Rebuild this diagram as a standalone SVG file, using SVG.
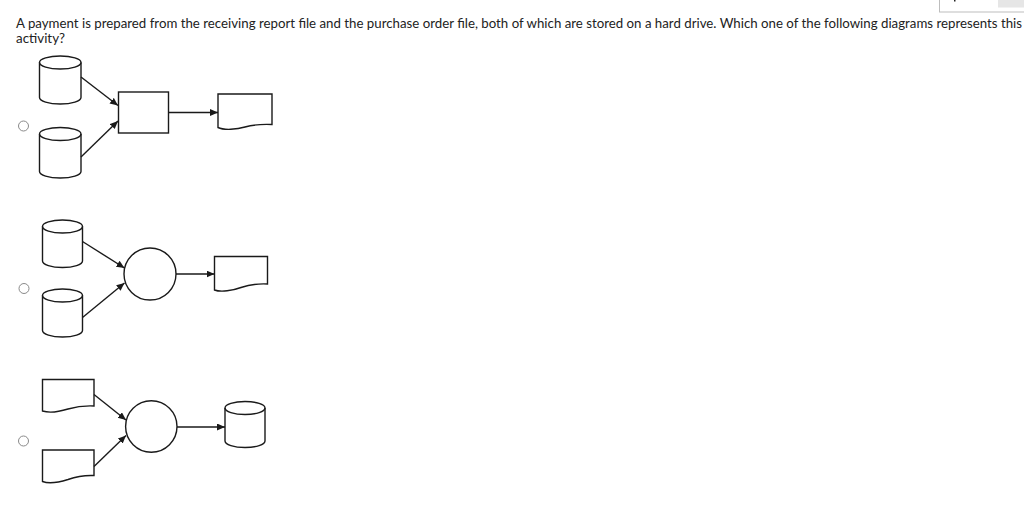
<svg xmlns="http://www.w3.org/2000/svg" width="1024" height="521" viewBox="0 0 1024 521">
<defs>
<style>
.txt{font-family:Lato,"Open Sans","Liberation Sans",sans-serif;font-size:13px;fill:#222}
.sh{fill:#fff;stroke:#1a1a1a;stroke-width:1.4}
.cn{fill:none;stroke:#1a1a1a;stroke-width:1.4}
.radio{fill:#fff;stroke:#8a8a8a;stroke-width:1}
</style>
<marker id="ah" markerWidth="9" markerHeight="8" refX="8" refY="3.5" orient="auto" markerUnits="userSpaceOnUse">
<path d="M0,0 L8,3.5 L0,7 Z" fill="#1a1a1a"/>
</marker>
</defs>
<rect width="1024" height="521" fill="#fff"/>
<g id="topbar">
<rect x="939.5" y="-2" width="90" height="14" fill="#fff" stroke="#bdbdbd" stroke-width="1"/>
<rect x="998" y="0" width="26" height="7.5" fill="#e6e6e6"/>
<rect x="954" y="0" width="1.5" height="1.5" fill="#222"/>
</g>
<g id="question">
<text class="txt" x="16" y="28" textLength="1006" lengthAdjust="spacingAndGlyphs">A payment is prepared from the receiving report file and the purchase order file, both of which are stored on a hard drive. Which one of the following diagrams represents this</text>
<text class="txt" x="16" y="42.5" textLength="49" lengthAdjust="spacingAndGlyphs">activity?</text>
</g>
<g id="radios">
<circle class="radio" cx="23.5" cy="126" r="5"/>
<circle class="radio" cx="24" cy="288.5" r="5"/>
<circle class="radio" cx="23.5" cy="441" r="5"/>
</g>
<g id="optA-disk1"><path class="sh" d="M39.5,62.5 V97.5 A20.75,6.5 0 0 0 81,97.5 V62.5 A20.75,6.5 0 0 0 39.5,62.5 Z"/><path class="cn" d="M39.5,62.5 A20.75,6.5 0 0 0 81,62.5"/></g>
<g id="optA-disk2"><path class="sh" d="M39.5,134 V171.5 A20.75,6.5 0 0 0 81,171.5 V134 A20.75,6.5 0 0 0 39.5,134 Z"/><path class="cn" d="M39.5,134 A20.75,6.5 0 0 0 81,134"/></g>
<g id="optA-process"><rect class="sh" x="118.5" y="92" width="50" height="41"/></g>
<g id="optA-doc"><path class="sh" d="M218,94 H272 V124.5 C260,124 252,125 245,127 C237,129.5 224,130.5 218,127.5 Z"/></g>
<g id="optB-disk1"><path class="sh" d="M42.5,226.5 V261 A20,6.5 0 0 0 82.5,261 V226.5 A20,6.5 0 0 0 42.5,226.5 Z"/><path class="cn" d="M42.5,226.5 A20,6.5 0 0 0 82.5,226.5"/></g>
<g id="optB-disk2"><path class="sh" d="M42.5,295.5 V330.5 A20,6.5 0 0 0 82.5,330.5 V295.5 A20,6.5 0 0 0 42.5,295.5 Z"/><path class="cn" d="M42.5,295.5 A20,6.5 0 0 0 82.5,295.5"/></g>
<g id="optB-process"><circle class="sh" cx="150" cy="274" r="26"/></g>
<g id="optB-doc"><path class="sh" d="M214.5,256.5 H267.5 V284 C256,283.5 248,285 241,287.5 C233,290.5 221,292.5 214.5,290 Z"/></g>
<g id="optC-doc1"><path class="sh" d="M42.5,379.5 H94 V406 C83,405.5 75,407 68,409 C60,411.5 49,413 42.5,411 Z"/></g>
<g id="optC-doc2"><path class="sh" d="M42.5,450 H94 V475.5 C83,475 75,477 68,479.5 C60,482 49,484 42.5,481.5 Z"/></g>
<g id="optC-process"><circle class="sh" cx="151.3" cy="426.5" r="25.7"/></g>
<g id="optC-disk"><path class="sh" d="M225,408 V441 A20,6.5 0 0 0 265,441 V408 A20,6.5 0 0 0 225,408 Z"/><path class="cn" d="M225,408 A20,6.5 0 0 0 265,408"/></g>
<g id="connectors" class="cn">
<line class="cn" x1="81" y1="77" x2="118" y2="105.5" marker-end="url(#ah)"/>
<line class="cn" x1="81" y1="157" x2="118" y2="121" marker-end="url(#ah)"/>
<line class="cn" x1="168.5" y1="112.5" x2="218" y2="112.5" marker-end="url(#ah)"/>
<line class="cn" x1="82.5" y1="241.5" x2="124.5" y2="268" marker-end="url(#ah)"/>
<line class="cn" x1="82.5" y1="317.5" x2="124.5" y2="283" marker-end="url(#ah)"/>
<line class="cn" x1="176" y1="274" x2="214.5" y2="274" marker-end="url(#ah)"/>
<line class="cn" x1="94" y1="394.5" x2="126" y2="420" marker-end="url(#ah)"/>
<line class="cn" x1="94" y1="466.5" x2="126" y2="435.5" marker-end="url(#ah)"/>
<line class="cn" x1="177" y1="427" x2="225" y2="427" marker-end="url(#ah)"/>
</g>
</svg>
